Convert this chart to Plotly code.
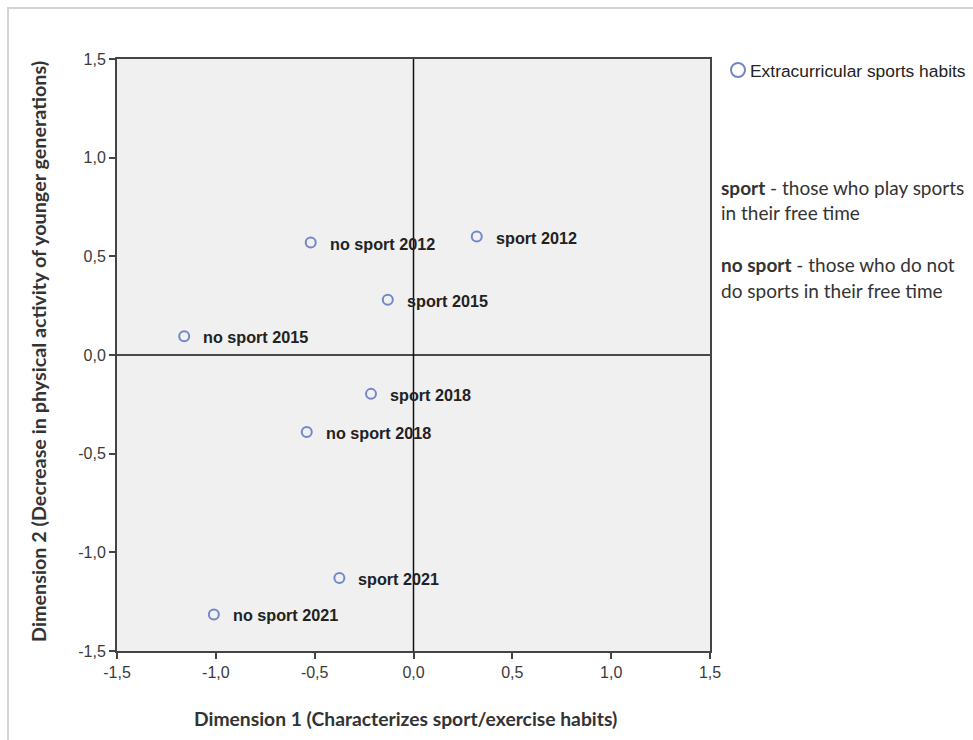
import plotly.graph_objects as go

# Category points of the two-dimensional solution
labels = ["no sport 2012", "sport 2012", "sport 2015", "no sport 2015",
          "sport 2018", "no sport 2018", "sport 2021", "no sport 2021"]
dim1 = [-0.52, 0.32, -0.13, -1.16, -0.215, -0.54, -0.375, -1.01]
dim2 = [0.57, 0.60, 0.28, 0.095, -0.197, -0.39, -1.13, -1.315]

tick_vals = [-1.5, -1.0, -0.5, 0.0, 0.5, 1.0, 1.5]
tick_text = ["-1,5", "-1,0", "-0,5", "0,0", "0,5", "1,0", "1,5"]

marker_color = "#7486c9"
axis_color = "#444444"
W, H = 973, 740
L, R, T, B = 117, 263, 59, 89
pw, ph = W - L - R, H - T - B


def px_x(p):
    return (p - L) / pw


def px_y(p):
    return (H - B - p) / ph


fig = go.Figure()
fig.add_trace(go.Scatter(
    x=dim1, y=dim2, mode="markers",
    marker=dict(symbol="circle-open", size=10, color=marker_color,
                line=dict(width=2, color=marker_color)),
    hoverinfo="text", text=labels, showlegend=False,
))

annotations = []
for lab, xv, yv in zip(labels, dim1, dim2):
    annotations.append(dict(
        x=xv, y=yv, xref="x", yref="y", text="<b>" + lab + "</b>",
        showarrow=False, xanchor="left", yanchor="middle",
        xshift=17, yshift=-1,
        font=dict(family="Liberation Sans, Arial", size=16.2, color="#222222"),
    ))

# Axis titles
annotations.append(dict(
    x=px_x(405), y=px_y(718), xref="paper", yref="paper",
    text="<b>Dimension 1 (Characterizes sport/exercise habits)</b>",
    showarrow=False, xanchor="center", yanchor="middle",
    font=dict(family="Lato, Open Sans", size=19.3, color="#333333"),
))
annotations.append(dict(
    x=px_x(38), y=px_y(352), xref="paper", yref="paper",
    text="<b>Dimension 2 (Decrease in physical activity of younger generations)</b>",
    showarrow=False, xanchor="center", yanchor="middle", textangle=-90,
    font=dict(family="Lato, Open Sans", size=19.8, color="#333333"),
))

# Legend entry
annotations.append(dict(
    x=px_x(748), y=px_y(71), xref="paper", yref="paper",
    text="Extracurricular sports habits", showarrow=False,
    xanchor="left", yanchor="middle",
    font=dict(family="Liberation Sans, Arial", size=17.4, color="#222222"),
))

# Explanatory notes
notes = [
    (187, "<b>sport</b> - those who play sports"),
    (212, "in their free time"),
    (264, "<b>no sport</b> - those who do not"),
    (290, "do sports in their free time"),
]
for yp, txt in notes:
    annotations.append(dict(
        x=px_x(719), y=px_y(yp), xref="paper", yref="paper",
        text=txt, showarrow=False, xanchor="left", yanchor="middle",
        font=dict(family="Lato, Open Sans", size=19, color="#333333"),
    ))

shapes = [
    # outer frame of the figure
    dict(type="rect", xref="paper", yref="paper",
         x0=px_x(8), x1=px_x(990), y0=px_y(760), y1=px_y(8),
         line=dict(color="#d4d4d4", width=2), layer="below"),
    # zero reference lines
    dict(type="line", xref="x", yref="y", x0=-1.5, x1=1.5, y0=0, y1=0,
         line=dict(color="#111111", width=1.5)),
    dict(type="line", xref="x", yref="y", x0=0, x1=0, y0=-1.5, y1=1.5,
         line=dict(color="#111111", width=1.5)),
    # legend symbol
    dict(type="circle", xref="paper", yref="paper",
         xsizemode="pixel", ysizemode="pixel",
         xanchor=px_x(738), yanchor=px_y(70),
         x0=-7, x1=7, y0=-7, y1=7,
         line=dict(color=marker_color, width=2)),
]

axis_common = dict(
    range=[-1.5, 1.5], tickvals=tick_vals, ticktext=tick_text,
    showgrid=False, zeroline=False, showline=True, linecolor=axis_color,
    linewidth=2, mirror=True, ticks="outside", ticklen=6, tickwidth=2,
    tickcolor=axis_color,
    tickfont=dict(family="Liberation Sans, Arial", size=16, color="#3a3a3a"),
)

fig.update_layout(
    width=W, height=H,
    margin=dict(l=L, r=R, t=T, b=B),
    paper_bgcolor="white", plot_bgcolor="#f0f0f0",
    xaxis=dict(**axis_common),
    yaxis=dict(**axis_common),
    annotations=annotations, shapes=shapes,
)

fig.write_html("out.html")
